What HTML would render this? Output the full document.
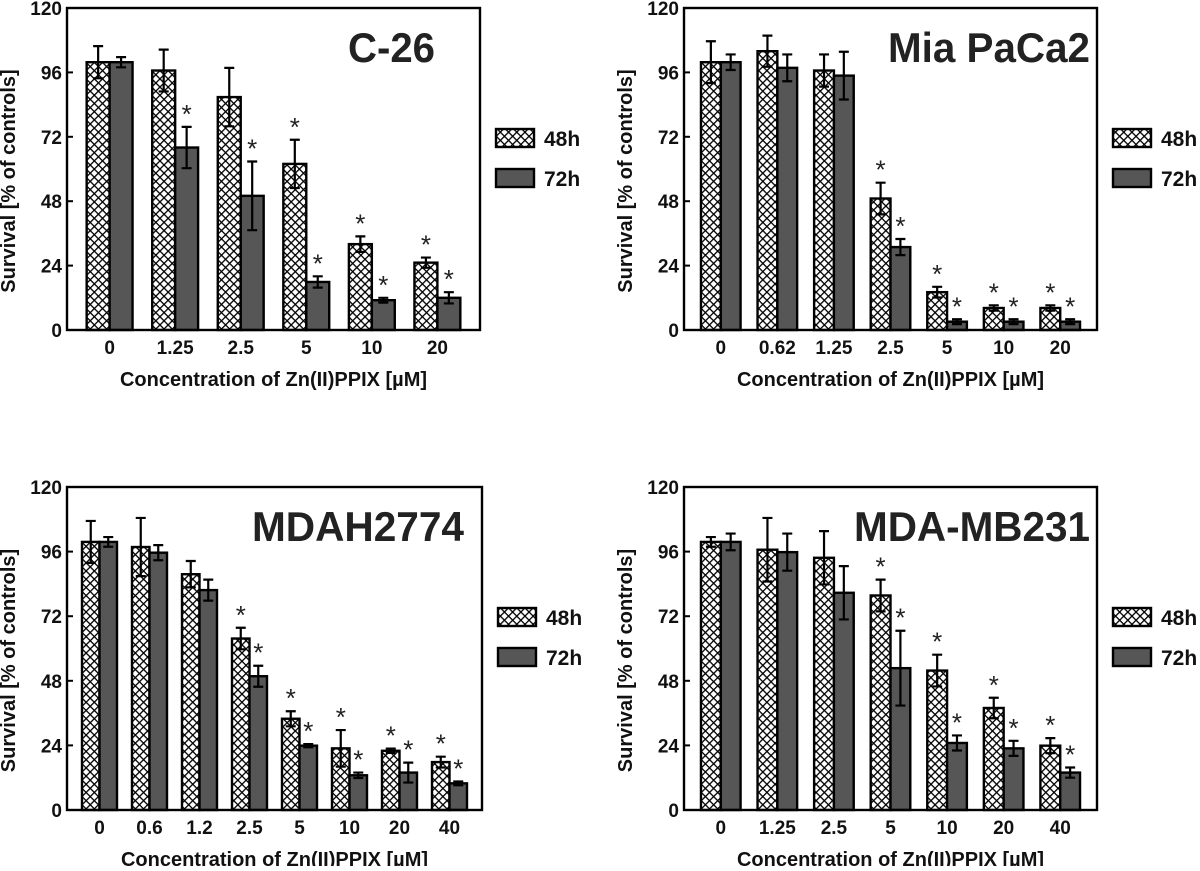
<!DOCTYPE html>
<html><head><meta charset="utf-8"><style>
html,body{margin:0;padding:0;background:#fff;}
svg text{font-family:"Liberation Sans",Arial,sans-serif;}
</style></head><body>
<svg id="fig" width="1200" height="866" viewBox="0 0 1200 866" xmlns="http://www.w3.org/2000/svg">
<defs>
<pattern id="hatch" patternUnits="userSpaceOnUse" width="5.8" height="5.8" patternTransform="rotate(45)">
<rect width="5.8" height="5.8" fill="#fff"/>
<line x1="0" y1="0" x2="0" y2="5.8" stroke="#000" stroke-width="2.6"/>
<line x1="0" y1="0" x2="5.8" y2="0" stroke="#000" stroke-width="2.6"/>
</pattern>
</defs>
</svg>
<script>
// C-26
const c26Cats = ["0","1.25","2.5","5","10","20"];
const c26V48 = [99.8,96.7,86.8,61.9,32,25.1];
const c26E48 = [6,7.8,10.9,9,2.9,1.9];
const c26V72 = [99.8,68,50,17.9,11.1,12];
const c26E72 = [1.9,7.7,12.8,2.1,0.9,2.1];
const c26S48 = [0,0,0,1,1,1];
const c26S72 = [0,1,1,1,1,1];
// Mia PaCa2
const miaCats = ["0","0.62","1.25","2.5","5","10","20"];
const miaV48 = [99.8,103.9,96.7,49,14.1,8.2,8.2];
const miaE48 = [7.8,5.8,6,5.9,2,1,1];
const miaV72 = [99.8,97.7,94.8,30.9,3.1,3.1,3.1];
const miaE72 = [2.9,5,8.9,3,0.9,0.9,0.9];
const miaS48 = [0,0,0,1,1,1,1];
const miaS72 = [0,0,0,1,1,1,1];
// MDAH2774
const mdahCats = ["0","0.6","1.2","2.5","5","10","20","40"];
const mdahV48 = [99.6,97.7,87.6,63.7,33.9,22.9,22,17.8];
const mdahE48 = [7.8,10.8,4.9,4,2.8,6.8,0.8,2];
const mdahV72 = [99.6,95.6,81.7,49.7,23.9,12.9,13.9,9.9];
const mdahE72 = [1.8,2.8,3.9,3.9,0.6,1,3.7,0.7];
const mdahS48 = [0,0,0,1,1,1,1,1];
const mdahS72 = [0,0,0,1,1,1,1,1];
// MDA-MB231
const mbCats = ["0","1.25","2.5","5","10","20","40"];
const mbV48 = [99.6,96.7,93.7,79.7,51.8,37.9,23.9];
const mbE48 = [1.8,11.8,9.9,5.9,5.9,3.8,2.8];
const mbV72 = [99.6,95.8,80.7,52.7,24.9,22.9,13.9];
const mbE72 = [3.1,6.9,9.9,13.9,2.8,2.8,1.9];
const mbS48 = [0,0,0,1,1,1,1];
const mbS72 = [0,0,0,1,1,1,1];
const yTicks = [0,24,48,72,96,120];
const seriesNames = ["48h","72h"];

const NS="http://www.w3.org/2000/svg";
const svg=document.getElementById('fig');
function mk(tag,attrs,parent,text){const e=document.createElementNS(NS,tag);for(const k in attrs)e.setAttribute(k,attrs[k]);if(text!==undefined)e.textContent=text;(parent||svg).appendChild(e);return e;}

function panel(id,title,titleX0,titleX1,L,R,T,B,cats,v48,e48,v72,e72,s48,s72){
  const g=mk('g',{});
  
  
  const W=R-L,n=cats.length,s=W/(n+0.3),bw=0.35*s;
  const y=v=>B-(v/120)*(B-T);
  const cx=i=>L+0.65*s+i*s;
  function bar(x,v,e,fill,star,nm){
    const r=mk('rect',{x:x,y:y(v),width:bw,height:B-y(v),fill:fill,stroke:'#000','stroke-width':2.4},g);
    
    
    const xm=x+bw/2;
    const eb=mk('path',{d:`M${xm},${y(v+e)}V${y(v-e)}M${xm-5},${y(v+e)}H${xm+5}M${xm-5},${y(v-e)}H${xm+5}`,stroke:'#000','stroke-width':2.2,fill:'none'},g);
    
    
    if(star){const st=mk('text',{x:xm,y:y(v+e)-4,'font-size':26,'text-anchor':'middle',fill:'#222'},g,'*');
      
      }
  }
  for(let i=0;i<n;i++){
    bar(cx(i)-bw,v48[i],e48[i],'url(#hatch)',s48[i],'bar-48h');
    bar(cx(i),v72[i],e72[i],'#565656',s72[i],'bar-72h');
    const t=mk('text',{x:cx(i),y:B+24,'font-size':19,'font-weight':'bold','text-anchor':'middle',fill:'#111'},g,cats[i]);
    
    
  }
  const fr=mk('rect',{x:L,y:T,width:W,height:B-T,fill:'none',stroke:'#000','stroke-width':2.4},g);
  
  
  yTicks.forEach(v=>{
    mk('line',{x1:L,x2:L+6,y1:y(v),y2:y(v),stroke:'#000','stroke-width':2},g);
    const t=mk('text',{x:L-5,y:y(v)+7,'font-size':19,'font-weight':'bold','text-anchor':'end',fill:'#111'},g,String(v));
    
    
  });
  const tt=mk('text',{x:titleX0,y:T+54,'font-size':42,'font-weight':'bold',fill:'#222',textLength:titleX1-titleX0,lengthAdjust:'spacingAndGlyphs'},g,title);
  
  
  const xt=mk('text',{x:(L+R)/2,y:B+56,'font-size':20,'font-weight':'bold','text-anchor':'middle',fill:'#111'},g,'Concentration of Zn(II)PPIX [µM]');
  
  
  const yc=(T+B)/2+12, yx=L-52;
  const yt=mk('text',{x:yx,y:yc,'font-size':20,'font-weight':'bold','text-anchor':'middle',fill:'#111',transform:`rotate(-90 ${yx} ${yc})`},g,'Survival [% of controls]');
  
  
  seriesNames.forEach((nm,k)=>{
    const ly=T+121+k*40;
    const lg=mk('g',{},g);
    
    
    mk('rect',{x:R+16,y:ly,width:38,height:18,fill:k?'#565656':'url(#hatch)',stroke:'#000','stroke-width':2.4},lg);
    mk('text',{x:R+64,y:ly+17,'font-size':21,'font-weight':'bold',fill:'#111'},lg,nm);
  });
}
panel('c26','C-26',348,435,67,480,8,330,c26Cats,c26V48,c26E48,c26V72,c26E72,c26S48,c26S72);
panel('mia-paca2','Mia PaCa2',888,1090,684,1097,8,330,miaCats,miaV48,miaE48,miaV72,miaE72,miaS48,miaS72);
panel('mdah2774','MDAH2774',252,464,67,482,487,810,mdahCats,mdahV48,mdahE48,mdahV72,mdahE72,mdahS48,mdahS72);
panel('mda-mb231','MDA-MB231',854,1090,684,1097,487,810,mbCats,mbV48,mbE48,mbV72,mbE72,mbS48,mbS72);
</script>
</body></html>
